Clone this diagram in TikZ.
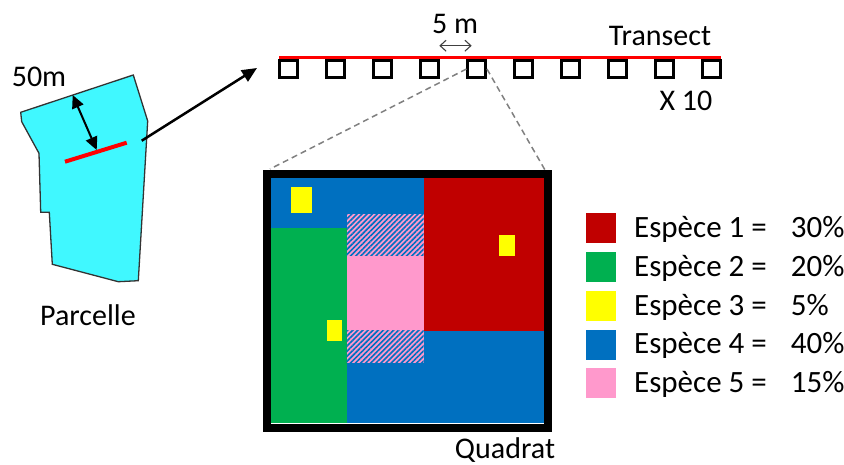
\documentclass[tikz,border=0pt]{standalone}
\usepackage{fontspec}
\setmainfont{Carlito}
\usetikzlibrary{arrows.meta,patterns.meta}
\definecolor{sp1}{HTML}{C00000}
\definecolor{sp2}{HTML}{00B050}
\definecolor{sp3}{HTML}{FFFF00}
\definecolor{sp4}{HTML}{0070C0}
\definecolor{sp5}{HTML}{FF99CC}
\definecolor{parc}{HTML}{40F8FF}
\definecolor{trred}{HTML}{FF0000}
\tikzset{
  lbl/.style={font=\fontsize{30}{35}\selectfont, inner sep=0pt, anchor=base},
  leg/.style={font=\fontsize{31}{37}\selectfont, inner sep=0pt, anchor=base west},
  swatch/.style={fill=#1, draw=none, minimum size=30pt, inner sep=0pt},
  quadsq/.style={draw=black, line width=3pt, minimum size=17.5pt, inner sep=0pt},
  yel/.style={fill=sp3, draw=none},
  hatch/.style={fill=sp5, postaction={pattern={Lines[angle=45,distance=3.6pt,line width=1.6pt]}, pattern color=sp4}},
  zoomline/.style={draw=gray, line width=1.5pt, dash pattern=on 6pt off 4pt},
}
\begin{document}
\begin{tikzpicture}[x=1pt,y=-1pt]
\useasboundingbox (0,0) rectangle (844,464);

% ---- Parcelle ----
\fill[parc, draw={black!80}, line width=1.3pt]
  (20.7,112.3) -- (133.3,75) -- (147.7,121) -- (138.3,280.7) -- (118.3,281.7)
  -- (52.3,264.3) -- (49.3,212.3) -- (40.7,212.3) -- (39,153.3) -- (21.7,121.7) -- cycle;
\coordinate (pl1) at (65,161.7);
\coordinate (pl2) at (126.7,142.7);
\draw[trred, line width=4pt] (pl1) -- (pl2);
\coordinate (d1) at (72.7,95);
\coordinate (d2) at (96.7,150);
\draw[line width=2pt, {Triangle[length=13pt,width=12pt]}-{Triangle[length=13pt,width=12pt]}] (d1) -- (d2);
\node[lbl] (l50) at (39,86.7) {50m};
\node[lbl] (lparc) at (88,325) {Parcelle};

% ---- arrow to transect ----
\coordinate (pa) at (141.7,140.7);
\coordinate (pb) at (257,68);
\draw[line width=2.5pt, -{Triangle[length=15pt,width=13pt]}] (pa) -- (pb);

% ---- Transect ----
\coordinate (tl) at (279,57.7);
\coordinate (tr) at (721,57.7);
\draw[trred, line width=3pt] (tl) -- (tr);
\foreach \i in {1,...,10} {
  \node[quadsq] (q\i) at ({288.7+47*(\i-1)},69) {};
}
\node[lbl] (ltr) at (660,45) {Transect};
\node[lbl] (lx10) at (686,110) {X 10};
\node[lbl] (l5m) at (455,33.3) {5 m};
\coordinate (a5l) at (439.3,45.7);
\coordinate (a5r) at (471.7,45.7);
\draw[black!75, line width=1.1pt, {Straight Barb[length=6pt,width=11pt]}-{Straight Barb[length=6pt,width=11pt]}] (a5l) -- (a5r);

% ---- Quadrat ----
\fill[sp4] (271,178.3) rectangle (543.7,423.3);
\fill[sp1] (423.7,178.3) rectangle (543.7,331);
\fill[sp2] (271,228.3) rectangle (346.7,423.3);
\path[hatch] (346.7,214) rectangle (423.7,256);
\fill[sp5] (346.7,256) rectangle (423.7,330);
\path[hatch] (346.7,330) rectangle (423.7,363.3);
\fill[yel] (291,186.7) rectangle (312.3,212.7);
\fill[yel] (499.3,235) rectangle (514.7,255.7);
\fill[yel] (327.3,320) rectangle (342.3,340.7);
\node[draw=black, line width=8pt, minimum width=281pt, minimum height=253.5pt, inner sep=0pt] (quad) at (407.5,300.75) {};
\node[lbl] (lquad) at (505,458) {Quadrat};
\coordinate (zl) at (270,169);
\coordinate (zr) at (545,170);
\draw[zoomline] (q5.west) -- (zl);
\draw[zoomline] (q5.east) -- (zr);

% ---- Legend ----
\node[swatch=sp1] (s1) at (601,228) {};
\node[swatch=sp2] (s2) at (601,267) {};
\node[swatch=sp3] (s3) at (601,305.8) {};
\node[swatch=sp4] (s4) at (601,344.7) {};
\node[swatch=sp5] (s5) at (601,383.3) {};
\node[leg] (e1) at (634,237.7) {Espèce 1 =};
\node[leg] (e2) at (634,276.3) {Espèce 2 =};
\node[leg] (e3) at (634,315) {Espèce 3 =};
\node[leg] (e4) at (634,353.7) {Espèce 4 =};
\node[leg] (e5) at (634,392.3) {Espèce 5 =};
\node[leg] (p1) at (790.7,237.7) {30\%};
\node[leg] (p2) at (790.7,276.3) {20\%};
\node[leg] (p3) at (790.7,315) {5\%};
\node[leg] (p4) at (790.7,353.7) {40\%};
\node[leg] (p5) at (790.7,392.3) {15\%};
\end{tikzpicture}
\end{document}
